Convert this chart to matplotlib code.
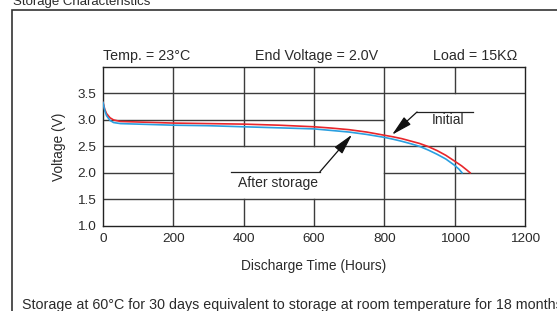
"""Storage characteristics: discharge curve before/after storage."""
import matplotlib.pyplot as plt
from matplotlib.patches import Rectangle

plt.rcParams['font.family'] = ['Liberation Sans', 'DejaVu Sans']

# discharge curves (hours, volts)
initial_hours = [0, 5, 10, 20, 30, 50, 100, 200, 300, 400, 500, 600, 650,
                 700, 750, 800, 825, 850, 875, 900, 925, 950, 975, 1000,
                 1020, 1035, 1044]
initial_volts = [3.33, 3.20, 3.12, 3.04, 3.00, 2.97, 2.96, 2.94, 2.93, 2.92,
                 2.90, 2.87, 2.845, 2.815, 2.77, 2.71, 2.68, 2.645, 2.60,
                 2.555, 2.495, 2.42, 2.33, 2.22, 2.13, 2.05, 2.00]
stored_hours = [0, 5, 10, 20, 30, 50, 100, 200, 300, 400, 500, 600, 650,
                700, 750, 800, 825, 850, 875, 900, 925, 950, 975, 1000,
                1012, 1021]
stored_volts = [3.33, 3.18, 3.08, 2.99, 2.95, 2.93, 2.92, 2.90, 2.89, 2.87,
                2.85, 2.83, 2.80, 2.77, 2.725, 2.67, 2.635, 2.595, 2.55,
                2.50, 2.43, 2.35, 2.26, 2.14, 2.07, 2.00]

x_ticks = [0, 200, 400, 600, 800, 1000, 1200]
y_ticks = [1.0, 1.5, 2.0, 2.5, 3.0, 3.5]

# partial grid: horizontal (y, x0, x1) and vertical (x, y0, y1)
h_grid = [(3.5, 0, 1200), (3.0, 0, 800), (2.5, 0, 1200), (2.0, 0, 200),
          (2.0, 800, 1200), (1.5, 0, 1200)]
v_grid = [(200, 1.0, 4.0), (400, 2.5, 4.0), (400, 1.0, 1.5), (600, 2.5, 4.0),
          (600, 1.0, 1.5), (800, 1.0, 4.0), (1000, 3.5, 4.0), (1000, 1.0, 2.5)]

TXT = '#2a2a2a'
GRID = '#3c3c3c'
ARROW = '-|>,head_length=0.9,head_width=0.22'

fig = plt.figure(figsize=(5.57, 3.11), dpi=100)

# outer frame, clipped by figure edges
fig.patches.append(Rectangle((12 / 557, -0.1), 0.99, 1 - 10 / 311 + 0.1,
                             transform=fig.transFigure, fill=False,
                             edgecolor='#333333', linewidth=1.2))
fig.text(13 / 557, 1 - 2 / 311, 'Storage Characteristics', fontsize=9.5,
         color=TXT, ha='left', va='center')

ax = fig.add_axes([103 / 557, 1 - 225.7 / 311, 422 / 557, 158.7 / 311])
ax.set_xlim(0, 1200)
ax.set_ylim(1.0, 4.0)

for y, x0, x1 in h_grid:
    ax.plot([x0, x1], [y, y], color=GRID, lw=1.0, zorder=1)
for x, y0, y1 in v_grid:
    ax.plot([x, x], [y0, y1], color=GRID, lw=1.0, zorder=1)

ax.plot(initial_hours, initial_volts, color='#e8262b', lw=1.2, zorder=3)
ax.plot(stored_hours, stored_volts, color='#2a9fe0', lw=1.2, zorder=3)

for s in ax.spines.values():
    s.set_color('#222222')
    s.set_linewidth(1.0)

ax.set_xticks(x_ticks)
ax.set_yticks(y_ticks)
ax.set_yticklabels([f'{v:.1f}' for v in y_ticks])
ax.tick_params(length=0, labelsize=9.7, colors=TXT, pad=5)
ax.set_xlabel('Discharge Time (Hours)', fontsize=9.9, color=TXT, labelpad=10)
ax.set_ylabel('Voltage (V)', fontsize=9.9, color=TXT, labelpad=8)

# callouts
ax.plot([893, 1052], [3.15, 3.15], color='#222222', lw=0.9)
ax.annotate('', xy=(822, 2.72), xytext=(893, 3.15),
            arrowprops=dict(arrowstyle=ARROW, color='#111111', lw=0.9,
                            mutation_scale=14, shrinkA=0, shrinkB=0))
ax.text(980, 3.0, 'Initial', fontsize=10, color=TXT, ha='center', va='center')

ax.plot([364, 617], [2.02, 2.02], color='#222222', lw=0.9)
ax.annotate('', xy=(708, 2.72), xytext=(617, 2.02),
            arrowprops=dict(arrowstyle=ARROW, color='#111111', lw=0.9,
                            mutation_scale=14, shrinkA=0, shrinkB=0))
ax.text(498, 1.81, 'After storage', fontsize=10, color=TXT,
        ha='center', va='center')

# header conditions
fig.text(103 / 557, 1 - 56 / 311, 'Temp. = 23°C', fontsize=10.3, color=TXT,
         ha='left', va='center')
fig.text(255 / 557, 1 - 56 / 311, 'End Voltage = 2.0V', fontsize=10.3,
         color=TXT, ha='left', va='center')
fig.text(433 / 557, 1 - 56 / 311, 'Load = 15KΩ', fontsize=10.3, color=TXT,
         ha='left', va='center')

fig.text(22 / 557, 1 - 305 / 311,
         'Storage at 60°C for 30 days equivalent to storage at room '
         'temperature for 18 months', fontsize=10.3, color=TXT,
         ha='left', va='center')

fig.savefig('out.png', dpi=100)
